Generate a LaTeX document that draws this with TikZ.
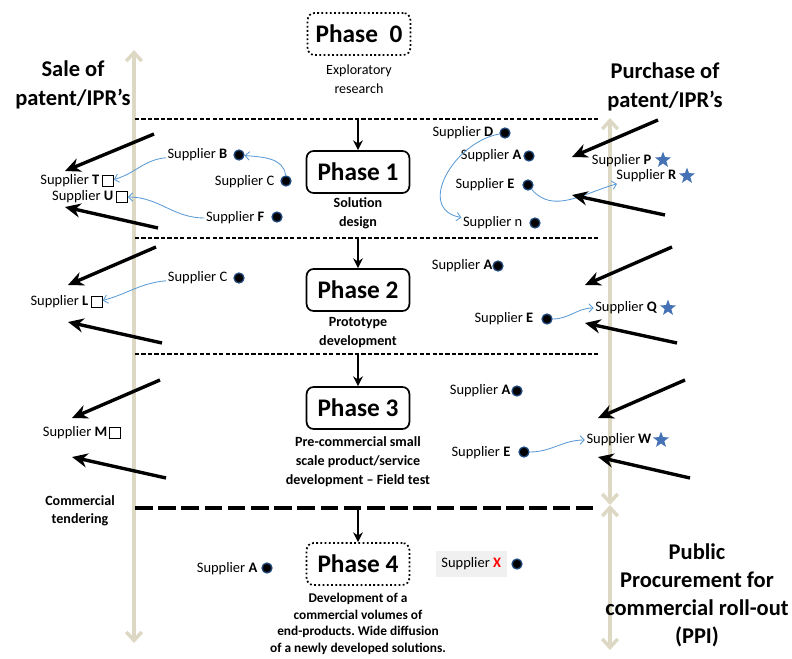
\documentclass[tikz,border=0pt]{standalone}
\usepackage{fontspec}
\setmainfont{Carlito}
\usepackage{tikz}
\usetikzlibrary{arrows.meta}
\usetikzlibrary{shapes.geometric}

\definecolor{axistan}{RGB}{221,216,195}
\definecolor{curveblue}{RGB}{91,155,213}
\definecolor{starblue}{RGB}{68,114,180}
\definecolor{dotrim}{RGB}{31,73,125}

\begin{document}
\frenchspacing
\begin{tikzpicture}[x=0.025cm,y=-0.025cm,
	phasebox/.style={rounded corners=5pt,draw,line width=1.2pt,minimum width=2.57cm,minimum height=1.05cm,font=\fontsize{18}{20}\selectfont\bfseries},
	phasedots/.style={phasebox,dash pattern=on 1.3pt off 1.7pt},
	phasetext/.style={align=center,font=\fontsize{10}{13.5}\selectfont\bfseries},
	sidetitle/.style={align=center,font=\fontsize{16}{21}\selectfont\bfseries},
	sdot/.style={circle,fill=black,draw=dotrim,line width=0.9pt,inner sep=0pt,minimum size=2.5mm},
	ssq/.style={rectangle,draw,line width=0.9pt,fill=white,inner sep=0pt,minimum size=2.6mm},
	sstar/.style={star,star points=5,star point ratio=2.4,fill=starblue,inner sep=0pt,minimum size=4.2mm},
	slabel/.style={anchor=east,inner sep=1pt,font=\fontsize{10.3}{12}\selectfont}]
	\useasboundingbox (0,0) rectangle (792,659);

	% time axes
	\coordinate (lt) at (134,50);
	\coordinate (lb) at (134,643);
	\coordinate (rt) at (610,118);
	\coordinate (rm) at (610,505);
	\coordinate (rb) at (610,650);
	\begin{scope}[line width=2.5pt,draw=axistan,
	              >={Straight Barb[axistan,length=6pt,width=11pt]}]
		\draw[<->] (lt) -- (lb);
		\draw[<->] (rt) -- (rm);
		\draw[<->] (rm) -- (rb);
	\end{scope}

	% phase borders
	\coordinate (d1l) at (135,119);
	\coordinate (d1r) at (598,119);
	\coordinate (d2l) at (135,238);
	\coordinate (d2r) at (598,238);
	\coordinate (d3l) at (135,354);
	\coordinate (d3r) at (598,354);
	\coordinate (d4l) at (135,508);
	\coordinate (d4r) at (598,508);
	\draw[line width=1.1pt,dash pattern=on 3pt off 1.6pt] (d1l) -- (d1r);
	\draw[line width=1.1pt,dash pattern=on 3pt off 1.6pt] (d2l) -- (d2r);
	\draw[line width=1.1pt,dash pattern=on 3pt off 1.6pt] (d3l) -- (d3r);
	\draw[line width=3pt,dash pattern=on 12.5pt off 4pt] (d4l) -- (d4r);

	% phases
	\node[phasedots] (ph0) at (359,34) {Phase\ \ 0};
	\node[phasebox] (ph1) at (358,172) {Phase 1};
	\node[phasebox] (ph2) at (358,290) {Phase 2};
	\node[phasebox] (ph3) at (358,408) {Phase 3};
	\node[phasedots] (ph4) at (358,564) {Phase 4};

	\node[align=center,font=\fontsize{10}{13.5}\selectfont] (t0) at (359,79) {Exploratory\\research};
	\node[phasetext] (t1) at (358,213) {Solution\\design};
	\node[phasetext] (t2) at (358,333) {Prototype\\development};
	\node[phasetext] (t3) at (358,462) {Pre-commercial small\\scale product/service\\development -- Field test};
	\node[phasetext,font=\fontsize{9.5}{11.8}\selectfont\bfseries] (t4) at (358,624) {Development of a\\commercial volumes of\\end-products. Wide diffusion\\of a newly developed solutions.};

	\begin{scope}[>={Stealth[black,length=7pt,width=7pt]},line width=1.4pt]
		\draw[->] (ph1 |- d1l) -- (ph1.north);
		\draw[->] (ph2 |- d2l) -- (ph2.north);
		\draw[->] (ph3 |- d3l) -- (ph3.north);
		\draw[->] (ph4 |- d4l) -- (ph4.north);
	\end{scope}

	% side titles
	\node[sidetitle] (sale) at (73,85) {Sale of\\patent/IPR's};
	\node[sidetitle] (purchase) at (665,87) {Purchase of\\patent/IPR's};
	\node[sidetitle,font=\fontsize{16}{20}\selectfont\bfseries] (ppi) at (697,595) {Public\\Procurement for\\commercial roll-out\\(PPI)};
	\node[align=center,font=\fontsize{10}{12.5}\selectfont\bfseries] (tender) at (80,511) {Commercial\\tendering};

	% suppliers, phase 1
	\node[sdot] (b1) at (239,155) {};
	\node[slabel] (b1l) at (229,155) {Supplier \textbf{B}};
	\node[sdot] (c1) at (286,181) {};
	\node[slabel] (c1l) at (276,182) {Supplier C};
	\node[sdot] (f1) at (277,217) {};
	\node[slabel] (f1l) at (266,218) {Supplier \textbf{F}};
	\node[ssq] (t1s) at (108,181) {};
	\node[slabel] (t1l) at (101,181) {Supplier \textbf{T}};
	\node[ssq] (u1s) at (122,197) {};
	\node[slabel] (u1l) at (115,197) {Supplier \textbf{U}};
	\node[sdot] (d1) at (505,133) {};
	\node[slabel] (d1lab) at (495,133) {Supplier \textbf{D}};
	\node[sdot] (a1) at (529,156) {};
	\node[slabel] (a1l) at (523,156) {Supplier \textbf{A}};
	\node[sdot] (e1) at (528,185) {};
	\node[slabel] (e1l) at (516,185) {Supplier \textbf{E}};
	\node[sdot] (n1) at (535,223) {};
	\node[slabel] (n1l) at (524,223) {Supplier n};
	\node[sstar] (p1) at (663,160) {};
	\node[slabel] (p1l) at (653,161) {Supplier \textbf{P}};
	\node[sstar] (r1) at (687,176) {};
	\node[slabel] (r1l) at (678,176) {Supplier \textbf{R}};

	% suppliers, phase 2
	\node[sdot] (c2) at (239,278) {};
	\node[slabel] (c2l) at (229,278) {Supplier C};
	\node[ssq] (l2s) at (97,302) {};
	\node[slabel] (l2l) at (90,302) {Supplier \textbf{L}};
	\node[sdot] (a2) at (498,266) {};
	\node[slabel] (a2l) at (494,266) {Supplier \textbf{A}};
	\node[sdot] (e2) at (547,319) {};
	\node[slabel] (e2l) at (535,319) {Supplier \textbf{E}};
	\node[sstar] (q2) at (668,308) {};
	\node[slabel] (q2l) at (659,308) {Supplier \textbf{Q}};

	% suppliers, phase 3
	\node[ssq] (m3s) at (115,433) {};
	\node[slabel] (m3l) at (109,433) {Supplier \textbf{M}};
	\node[sdot] (a3) at (517,391) {};
	\node[slabel] (a3l) at (512,391) {Supplier \textbf{A}};
	\node[sdot] (e3) at (524,452) {};
	\node[slabel] (e3l) at (512,453) {Supplier \textbf{E}};
	\node[sstar] (w3) at (661,440) {};
	\node[slabel] (w3l) at (653,440) {Supplier \textbf{W}};

	% suppliers, phase 4
	\node[sdot] (a4) at (267,568) {};
	\node[slabel] (a4l) at (259,569) {Supplier \textbf{A}};
	\node[sdot] (x4) at (517,564) {};
	\node[slabel,fill=black!6,inner xsep=4pt,minimum height=6.5mm] (x4l) at (507,564) {Supplier {\bfseries\color{red}X}};

	% supplier moves
	\begin{scope}[->,>={Straight Barb[curveblue,length=3pt,width=6pt]},
	              every edge/.style={draw=curveblue,line width=0.6pt}]
		\path (c1) edge[out=95,in=-5] (b1);
		\path (b1l) edge[out=185,in=15] (t1s);
		\path (f1l) edge[out=180,in=0] (u1s);
		\path (d1) edge[out=190,in=170,looseness=1.3] (n1l);
		\path (e1) edge[out=-50,in=195] (r1l);
		\path (c2l) edge[out=185,in=15] (l2s);
		\path (e2) edge[out=0,in=180] (q2l);
		\path (e3) edge[out=0,in=180] (w3l);
	\end{scope}

	% sale and purchase of IPR
	\coordinate (s1a) at (154,134);
	\coordinate (s1b) at (65,171);
	\coordinate (s1c) at (158,228);
	\coordinate (s1d) at (65,207);
	\coordinate (s2a) at (156,247);
	\coordinate (s2b) at (68,285);
	\coordinate (s2c) at (162,343);
	\coordinate (s2d) at (68,322);
	\coordinate (s3a) at (160,380);
	\coordinate (s3b) at (72,418);
	\coordinate (s3c) at (166,478);
	\coordinate (s3d) at (72,457);
	\coordinate (p1a) at (658,120);
	\coordinate (p1b) at (572,157);
	\coordinate (p1c) at (665,215);
	\coordinate (p1d) at (572,195);
	\coordinate (p2a) at (672,247);
	\coordinate (p2b) at (585,285);
	\coordinate (p2c) at (677,343);
	\coordinate (p2d) at (585,323);
	\coordinate (p3a) at (685,380);
	\coordinate (p3b) at (598,418);
	\coordinate (p3c) at (690,478);
	\coordinate (p3d) at (598,457);
	\begin{scope}[->,>={Stealth[black,length=11pt,width=10pt]},line width=2.4pt]
		\draw (s1a) -- (s1b);
		\draw (s1c) -- (s1d);
		\draw (s2a) -- (s2b);
		\draw (s2c) -- (s2d);
		\draw (s3a) -- (s3b);
		\draw (s3c) -- (s3d);
		\draw (p1a) -- (p1b);
		\draw (p1c) -- (p1d);
		\draw (p2a) -- (p2b);
		\draw (p2c) -- (p2d);
		\draw (p3a) -- (p3b);
		\draw (p3c) -- (p3d);
	\end{scope}
\end{tikzpicture}
\end{document}
